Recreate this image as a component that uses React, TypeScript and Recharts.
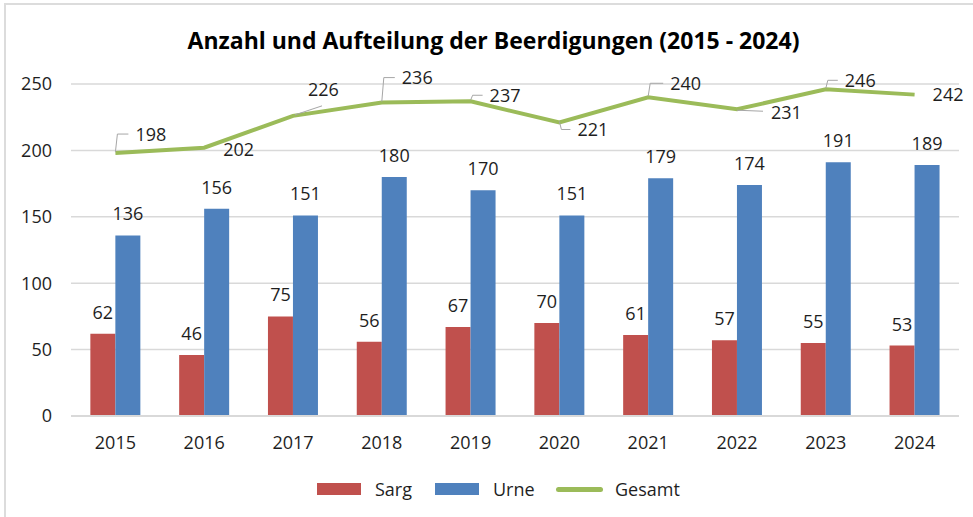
import React from 'react';
import { ComposedChart, Bar, Line, XAxis, YAxis, CartesianGrid, LabelList } from 'recharts';

const YEARS = ['2015', '2016', '2017', '2018', '2019', '2020', '2021', '2022', '2023', '2024'];
const SARG = [62, 46, 75, 56, 67, 70, 61, 57, 55, 53];
const URNE = [136, 156, 151, 180, 170, 151, 179, 174, 191, 189];
const GESAMT = [198, 202, 226, 236, 237, 221, 240, 231, 246, 242];
const Y_TICKS = [0, 50, 100, 150, 200, 250];

// placement of the "Gesamt" data labels relative to their point (text start, vertical centre)
const GESAMT_LABEL_DX = [20, 19, 15, 20, 19, 18, 22, 34, 19, 18];
const GESAMT_LABEL_DY = [-19, 2, -26, -25, -6, 7, -14, 3, -9, 0];
const GESAMT_LEADER = ['elbow', 'none', 'diag', 'elbow', 'elbow', 'elbow', 'elbow', 'flat', 'elbow', 'none'];

const RED = '#C0504D';
const BLUE = '#4F81BD';
const GREEN = '#9BBB59';
const TEXT = '#1e1e1e';
const GRID = '#d9d9d9';
const FONT = '"Open Sans", "Noto Sans", sans-serif';

const data = YEARS.map((year, i) => ({ year, sarg: SARG[i], urne: URNE[i], gesamt: GESAMT[i] }));

const GesamtLabel = (props: any) => {
  const { x, y, value } = props;
  let index = props.index;
  if (typeof index !== 'number') index = GESAMT.indexOf(Number(value));
  if (x == null || y == null || index < 0) return null;
  const dx = GESAMT_LABEL_DX[index];
  const dy = GESAMT_LABEL_DY[index];
  const kind = GESAMT_LEADER[index];
  let path = '';
  if (kind === 'elbow') {
    path = `M${x},${y - 1} L${x + 2},${y + dy} L${x + dx - 7},${y + dy}`;
  } else if (kind === 'diag') {
    path = `M${x + 2},${y - 1} L${x + dx + 14},${y + dy + 16}`;
  } else if (kind === 'flat') {
    path = `M${x},${y + 1} L${x + dx - 8},${y + dy - 1}`;
  }
  return (
    <g>
      {path && <path d={path} stroke="#a6a6a6" strokeWidth={1} fill="none" />}
      <text x={x + dx} y={y + dy + 6.5} fill={TEXT} fontSize={18} fontFamily={FONT} textAnchor="start">
        {value}
      </text>
    </g>
  );
};

const legendText: React.CSSProperties = {
  position: 'absolute',
  fontFamily: FONT,
  fontSize: 18,
  color: TEXT,
  lineHeight: '18px',
  top: 480,
};

export default function App() {
  return (
    <div style={{ position: 'absolute', left: 0, top: 0, width: 973, height: 517, background: '#fff', overflow: 'hidden' }}>
      <div
        style={{
          position: 'absolute',
          left: 4,
          top: 3,
          right: -10,
          bottom: -10,
          borderTop: '2px solid #dcdcdc',
          borderLeft: '2px solid #dcdcdc',
        }}
      />
      <div
        style={{
          position: 'absolute',
          left: 0,
          width: 973,
          top: 24,
          textAlign: 'center',
          fontFamily: FONT,
          fontWeight: 700,
          fontSize: 23,
          lineHeight: '32px',
          color: '#000',
          paddingLeft: 14,
          boxSizing: 'border-box',
        }}
      >
        Anzahl und Aufteilung der Beerdigungen (2015 - 2024)
      </div>
      <div style={{ position: 'absolute', left: 0, top: 0 }}>
        <ComposedChart
          width={973}
          height={517}
          data={data}
          margin={{ top: 84, right: 14, bottom: 61, left: 0 }}
          barCategoryGap="21.8%"
          barGap={0}
        >
          <CartesianGrid horizontal vertical={false} stroke={GRID} strokeWidth={1.5} />
          <XAxis
            dataKey="year"
            axisLine={{ stroke: GRID, strokeWidth: 2 }}
            tickLine={false}
            tickSize={0}
            tickMargin={20}
            height={40}
            tick={{ fill: TEXT, fontSize: 18, fontFamily: FONT }}
            interval={0}
          />
          <YAxis
            domain={[0, 250]}
            ticks={Y_TICKS}
            axisLine={false}
            tickLine={false}
            tickSize={0}
            tickMargin={19}
            width={71}
            tick={{ fill: TEXT, fontSize: 18, fontFamily: FONT }}
            interval={0}
          />
          <Bar dataKey="sarg" name="Sarg" fill={RED} isAnimationActive={false}>
            <LabelList dataKey="sarg" position="top" offset={15} fill={TEXT} fontSize={18} fontFamily={FONT} />
          </Bar>
          <Bar dataKey="urne" name="Urne" fill={BLUE} isAnimationActive={false}>
            <LabelList dataKey="urne" position="top" offset={15} fill={TEXT} fontSize={18} fontFamily={FONT} />
          </Bar>
          <Line
            dataKey="gesamt"
            name="Gesamt"
            stroke={GREEN}
            strokeWidth={4}
            dot={false}
            activeDot={false}
            isAnimationActive={false}
          >
            <LabelList dataKey="gesamt" content={GesamtLabel} />
          </Line>
        </ComposedChart>
      </div>
      {/* Legend */}
      <div style={{ position: 'absolute', left: 317, top: 483, width: 44, height: 12, background: RED }} />
      <div style={{ ...legendText, left: 375 }}>Sarg</div>
      <div style={{ position: 'absolute', left: 435, top: 483, width: 44, height: 12, background: BLUE }} />
      <div style={{ ...legendText, left: 493 }}>Urne</div>
      <div style={{ position: 'absolute', left: 556, top: 487, width: 47, height: 5, background: GREEN, borderRadius: 3 }} />
      <div style={{ ...legendText, left: 615 }}>Gesamt</div>
    </div>
  );
}
